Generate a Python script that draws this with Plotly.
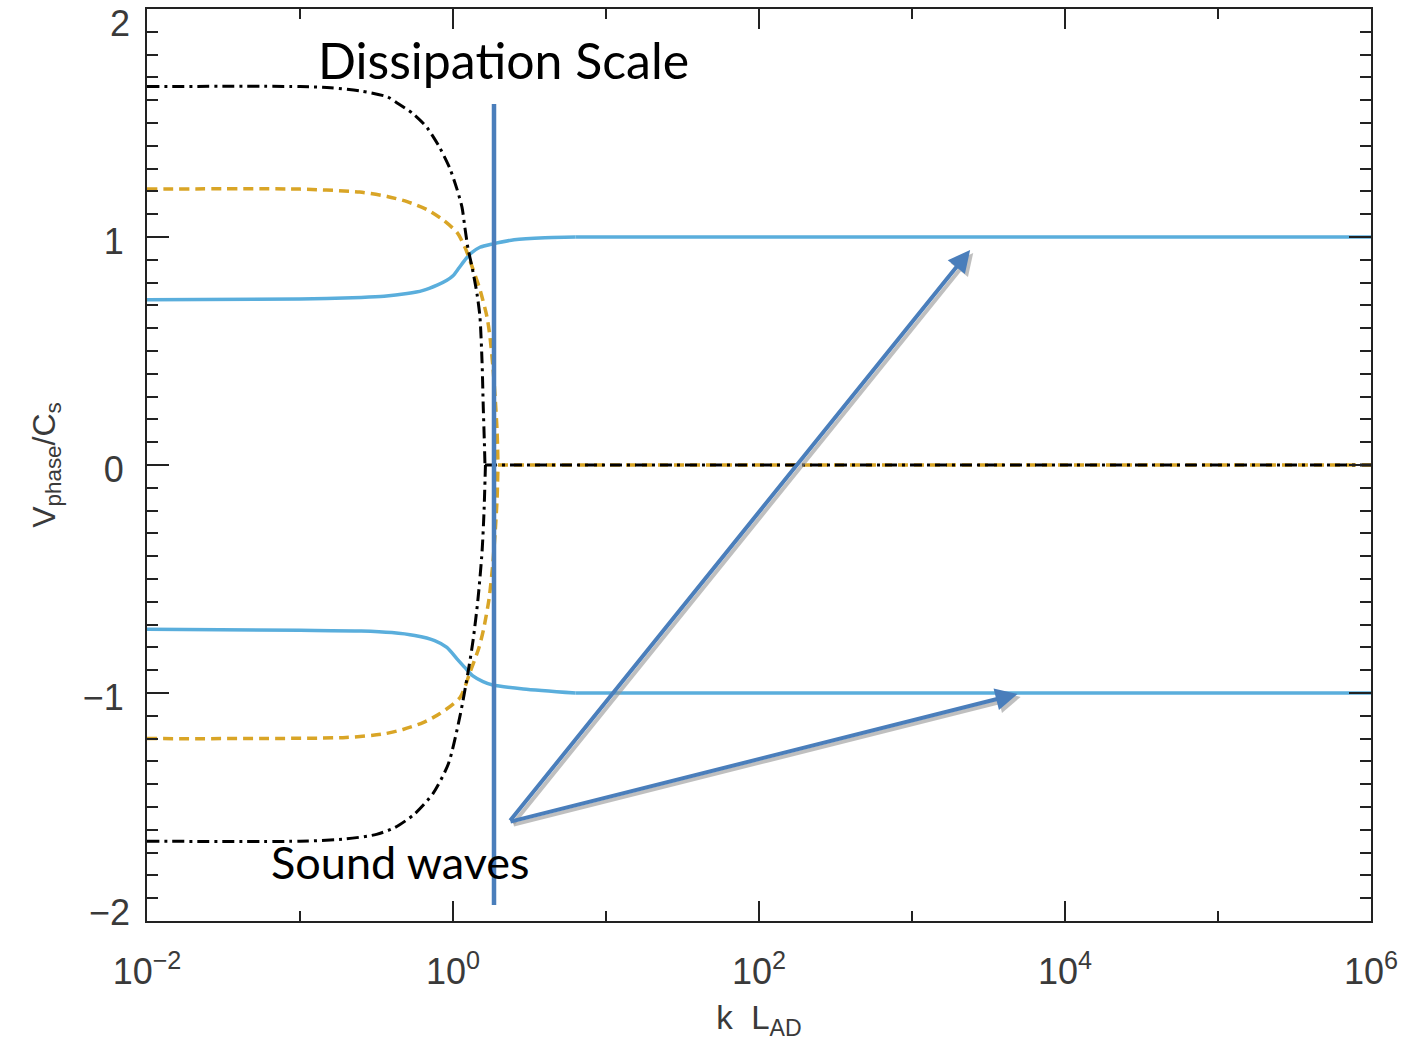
import numpy as np
import plotly.graph_objects as go

# ---------------- data (log10 k, v_phase / c_s) ----------------
blue_up_logk = [-2.0, -1.0, -0.6, -0.45, -0.3, -0.2, -0.1, -0.04, 0.0, 0.04, 0.085, 0.12, 0.176, 0.26, 0.4, 0.6, 0.8, 6.0]
blue_up_v    = [0.725, 0.728, 0.735, 0.74, 0.752, 0.765, 0.79, 0.81, 0.83, 0.865, 0.905, 0.93, 0.955, 0.97, 0.988, 0.997, 1.0, 1.0]

blue_lo_logk = [-2.0, -1.0, -0.6, -0.4, -0.25, -0.12, -0.04, 0.026, 0.08, 0.13, 0.196, 0.26, 0.46, 0.8, 6.0]
blue_lo_v    = [-0.72, -0.725, -0.728, -0.735, -0.748, -0.77, -0.80, -0.85, -0.89, -0.925, -0.95, -0.965, -0.982, -1.0, -1.0]

gold_up_logk = [-2.0, -1.0, -0.61, -0.43, -0.30, -0.17, -0.065, 0.026, 0.078, 0.13, 0.176, 0.222, 0.242, 0.261, 0.275, 0.288, 0.294, 6.0]
gold_up_v    = [1.21, 1.21, 1.197, 1.178, 1.155, 1.12, 1.075, 1.02, 0.955, 0.86, 0.77, 0.65, 0.56, 0.43, 0.30, 0.15, 0.0, 0.0]

gold_lo_logk = [-2.0, -0.7, -0.458, -0.327, -0.196, -0.085, 0.046, 0.111, 0.17, 0.2, 0.235, 0.258, 0.275, 0.288, 0.294]
gold_lo_v    = [-1.20, -1.195, -1.18, -1.16, -1.13, -1.09, -1.02, -0.91, -0.80, -0.72, -0.59, -0.45, -0.30, -0.15, 0.0]

black_up_logk = [-2.0, -1.0, -0.8, -0.6, -0.43, -0.37, -0.26, -0.17, -0.085, -0.02, 0.026, 0.059, 0.078, 0.098, 0.124, 0.157, 0.176, 0.19, 0.198, 0.205, 0.209, 6.0]
black_up_v    = [1.66, 1.66, 1.655, 1.64, 1.615, 1.59, 1.54, 1.48, 1.39, 1.30, 1.21, 1.13, 1.04, 0.95, 0.87, 0.75, 0.65, 0.45, 0.25, 0.10, 0.0, 0.0]

black_lo_logk = [-2.0, -1.0, -0.7, -0.5, -0.38, -0.25, -0.13, -0.03, 0.046, 0.098, 0.131, 0.163, 0.19, 0.203, 0.212]
black_lo_v    = [-1.65, -1.65, -1.64, -1.62, -1.59, -1.53, -1.44, -1.31, -1.10, -0.91, -0.77, -0.59, -0.38, -0.20, 0.0]

# dissipation-scale marker and arrows (log10 k, v)
dissip_logk = 0.268
dissip_v = [1.583, -1.93]
arrow_tail = (0.366, -1.566)
arrow_heads = [(3.38, 0.943), (3.69, -1.004)]

x_major = [1e-2, 1e0, 1e2, 1e4, 1e6]
x_major_text = ["10<sup>−2</sup>", "10<sup>0</sup>", "10<sup>2</sup>", "10<sup>4</sup>", "10<sup>6</sup>"]
x_minor = [1e-1, 1e1, 1e3, 1e5]
y_major = [-2, -1, 0, 1, 2]
y_major_text = ["", "−1", "0", "1", ""]
# edge labels drawn separately (as in the original, they sit inside the frame edges)
y_edge_vals = [2, -2]
y_edge_text = ["2", "−2"]
y_edge_shift = [-14, 9]

BLUE = "#5AAEDC"
GOLD = "#D9A526"
BLACK = "#000000"
ANN_BLUE = "#4A7EBB"
AXC = "#222222"
TXT = "#3a3a3a"

def k(arr):
    return 10 ** np.array(arr)

fig = go.Figure()

def add(lk, v, color, width, dash, flat_tail):
    n = len(lk) - 1 if flat_tail else len(lk)
    fig.add_trace(go.Scatter(x=k(lk[:n]), y=v[:n], mode="lines",
                             line=dict(color=color, width=width, dash=dash, shape="spline", smoothing=0.7),
                             showlegend=False, hoverinfo="skip"))
    if flat_tail:
        fig.add_trace(go.Scatter(x=k(lk[-2:]), y=v[-2:], mode="lines",
                                 line=dict(color=color, width=width, dash=dash),
                                 showlegend=False, hoverinfo="skip"))

add(blue_up_logk, blue_up_v, BLUE, 3.5, "solid", True)
add(blue_lo_logk, blue_lo_v, BLUE, 3.5, "solid", True)
add(gold_up_logk, gold_up_v, GOLD, 3.5, "10px,6px", True)
add(gold_lo_logk, gold_lo_v, GOLD, 3.5, "10px,6px", False)
add(black_up_logk, black_up_v, BLACK, 3, "12px,5px,3px,5px", True)
add(black_lo_logk, black_lo_v, BLACK, 3, "12px,5px,3px,5px", False)

# vertical dissipation line
fig.add_trace(go.Scatter(x=k([dissip_logk, dissip_logk]), y=dissip_v, mode="lines",
                         line=dict(color=ANN_BLUE, width=4.5),
                         showlegend=False, hoverinfo="skip"))

annotations = []
for (hx, hy) in arrow_heads:
    annotations.append(dict(x=hx + 0.02, y=hy - 0.013, ax=arrow_tail[0] + 0.02, ay=arrow_tail[1] - 0.013,
                            xref="x", yref="y", axref="x", ayref="y", text="",
                            showarrow=True, arrowhead=2, arrowsize=1.1, arrowwidth=4,
                            arrowcolor="rgba(150,150,150,0.6)"))
for (hx, hy) in arrow_heads:
    annotations.append(dict(x=hx, y=hy, ax=arrow_tail[0], ay=arrow_tail[1],
                            xref="x", yref="y", axref="x", ayref="y", text="",
                            showarrow=True, arrowhead=2, arrowsize=1.1, arrowwidth=4,
                            arrowcolor=ANN_BLUE))

annotations.append(dict(x=0.333, y=1.775, xref="x", yref="y", text="Dissipation Scale",
                        showarrow=False, font=dict(family="Lato, Liberation Sans, sans-serif", size=50, color="black"),
                        xanchor="center", yanchor="middle"))
annotations.append(dict(x=-0.346, y=-1.741, xref="x", yref="y", text="Sound waves",
                        showarrow=False, font=dict(family="Lato, Liberation Sans, sans-serif", size=45, color="black"),
                        xanchor="center", yanchor="middle"))

tickfont = dict(family="Liberation Sans, Arial, sans-serif", size=36, color=TXT)

for v, t, s in zip(y_edge_vals, y_edge_text, y_edge_shift):
    annotations.append(dict(x=0, y=v, xref="paper", yref="y", text=t, showarrow=False,
                            xanchor="right", yanchor="middle", xshift=-15, yshift=s,
                            font=tickfont))

fig.update_layout(
    width=1421, height=1041,
    margin=dict(l=147, r=50, t=9, b=120, autoexpand=False),
    paper_bgcolor="white", plot_bgcolor="white",
    annotations=annotations,
    xaxis=dict(type="log", range=[-2, 6], automargin=False,
               tickmode="array", tickvals=x_major, ticktext=x_major_text,
               ticks="inside", ticklen=20, tickwidth=2, tickcolor=AXC,
               minor=dict(tickmode="array", tickvals=x_minor, ticks="inside", ticklen=10, tickwidth=2, tickcolor=AXC),
               showline=True, linecolor=AXC, linewidth=2, mirror="ticks",
               showgrid=False, zeroline=False,
               tickfont=tickfont, ticklabelstandoff=18,
               title=dict(text="k  L<sub>AD</sub>", font=dict(family="Liberation Sans, Arial, sans-serif", size=33, color=TXT), standoff=16)),
    yaxis=dict(range=[-2, 2], automargin=False,
               tickmode="array", tickvals=y_major, ticktext=y_major_text,
               ticks="inside", ticklen=22, tickwidth=2, tickcolor=AXC,
               minor=dict(dtick=0.1, tick0=0, ticks="inside", ticklen=11, tickwidth=2, tickcolor=AXC),
               showline=True, linecolor=AXC, linewidth=2, mirror="ticks",
               showgrid=False, zeroline=False,
               tickfont=tickfont, ticklabelstandoff=14, ticklabelshift=4,
               title=dict(text="V<sub>phase</sub>/C<sub>s</sub>", font=dict(family="Liberation Sans, Arial, sans-serif", size=32, color=TXT), standoff=18)),
)

fig.write_html("out.html")
